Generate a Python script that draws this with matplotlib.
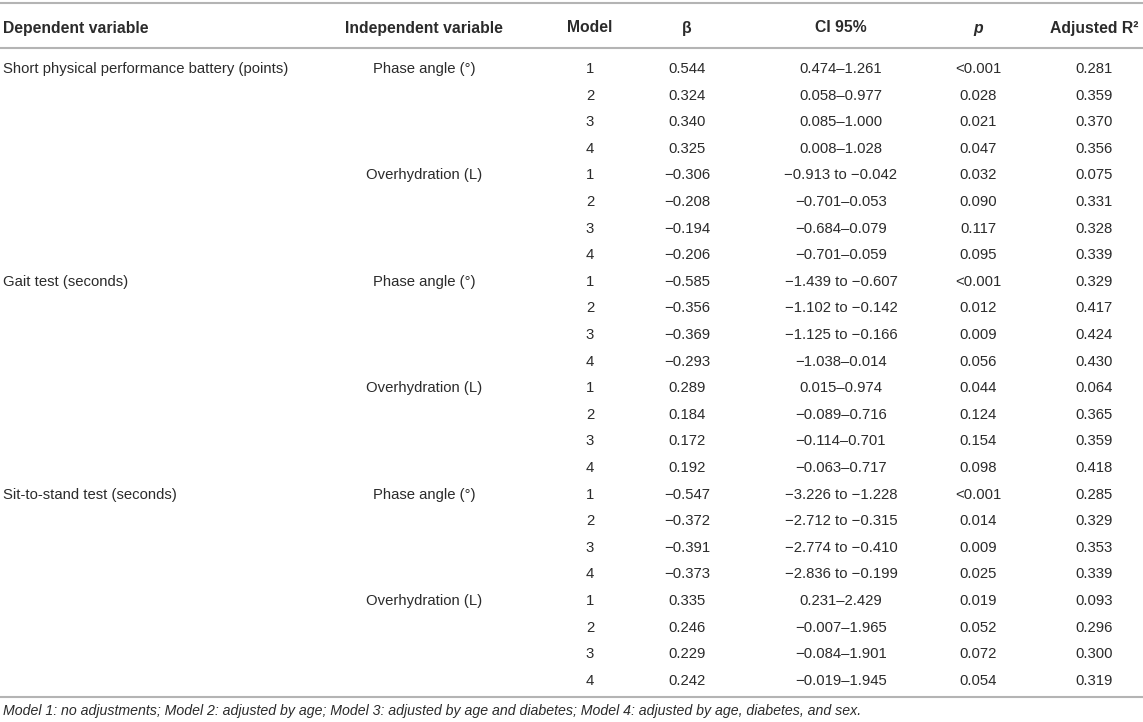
import matplotlib
matplotlib.use("Agg")
import matplotlib.pyplot as plt

plt.rcParams["font.family"] = ["Liberation Sans", "DejaVu Sans"]

# table content
headers = ["Dependent variable", "Independent variable", "Model", "β", "CI 95%", "p", "Adjusted R²"]
dependent = ["Short physical performance battery (points)", "Gait test (seconds)", "Sit-to-stand test (seconds)"]
independent = ["Phase angle (°)", "Overhydration (L)"]
models = ["1", "2", "3", "4"]

beta = [
    "0.544", "0.324", "0.340", "0.325",
    "−0.306", "−0.208", "−0.194", "−0.206",
    "−0.585", "−0.356", "−0.369", "−0.293",
    "0.289", "0.184", "0.172", "0.192",
    "−0.547", "−0.372", "−0.391", "−0.373",
    "0.335", "0.246", "0.229", "0.242",
]
ci95 = [
    "0.474–1.261", "0.058–0.977", "0.085–1.000", "0.008–1.028",
    "−0.913 to −0.042", "−0.701–0.053", "−0.684–0.079", "−0.701–0.059",
    "−1.439 to −0.607", "−1.102 to −0.142", "−1.125 to −0.166", "−1.038–0.014",
    "0.015–0.974", "−0.089–0.716", "−0.114–0.701", "−0.063–0.717",
    "−3.226 to −1.228", "−2.712 to −0.315", "−2.774 to −0.410", "−2.836 to −0.199",
    "0.231–2.429", "−0.007–1.965", "−0.084–1.901", "−0.019–1.945",
]
p_values = [
    "<0.001", "0.028", "0.021", "0.047",
    "0.032", "0.090", "0.117", "0.095",
    "<0.001", "0.012", "0.009", "0.056",
    "0.044", "0.124", "0.154", "0.098",
    "<0.001", "0.014", "0.009", "0.025",
    "0.019", "0.052", "0.072", "0.054",
]
adj_r2 = [
    "0.281", "0.359", "0.370", "0.356",
    "0.075", "0.331", "0.328", "0.339",
    "0.329", "0.417", "0.424", "0.430",
    "0.064", "0.365", "0.359", "0.418",
    "0.285", "0.329", "0.353", "0.339",
    "0.093", "0.296", "0.300", "0.319",
]
footnote = ("Model 1: no adjustments; Model 2: adjusted by age; Model 3: adjusted by age and diabetes; "
            "Model 4: adjusted by age, diabetes, and sex.")

TEXT = "#2b2b2b"
RULE = "#b4b4b4"
FS = 10.7

fig = plt.figure(figsize=(11.43, 7.22), dpi=100)
ax = fig.add_axes([0, 0, 1, 1])
ax.set_xlim(0, 1143)
ax.set_ylim(722, 0)
ax.axis("off")

# column x positions (pixels) and alignment
col_x = [3, 424, 590, 687, 841, 978, 1094]
col_ha = ["left", "center", "center", "center", "center", "center", "center"]

header_y = 28
for i, h in enumerate(headers):
    style = "italic" if h == "p" else "normal"
    ax.text(col_x[i], header_y, h, ha=col_ha[i], va="center", fontsize=11.3,
            fontweight="bold", fontstyle=style, color=TEXT)

for y in (3, 48, 697):
    ax.axhline(y, color=RULE, linewidth=1.5)

row_y0 = 69
row_dy = 26.6
n_rows = len(beta)
for r in range(n_rows):
    y = row_y0 + r * row_dy
    if r % 8 == 0:
        ax.text(col_x[0], y, dependent[r // 8], ha="left", va="center", fontsize=FS, color=TEXT)
    if r % 4 == 0:
        ax.text(col_x[1], y, independent[(r // 4) % 2], ha="center", va="center", fontsize=FS, color=TEXT)
    values = [models[r % 4], beta[r], ci95[r], p_values[r], adj_r2[r]]
    for j, v in enumerate(values):
        ax.text(col_x[j + 2], y, v, ha="center", va="center", fontsize=FS, color=TEXT)

ax.text(3, 711, footnote, ha="left", va="center", fontsize=10.2, fontstyle="italic", color=TEXT)

fig.savefig("out.png", dpi=100)
